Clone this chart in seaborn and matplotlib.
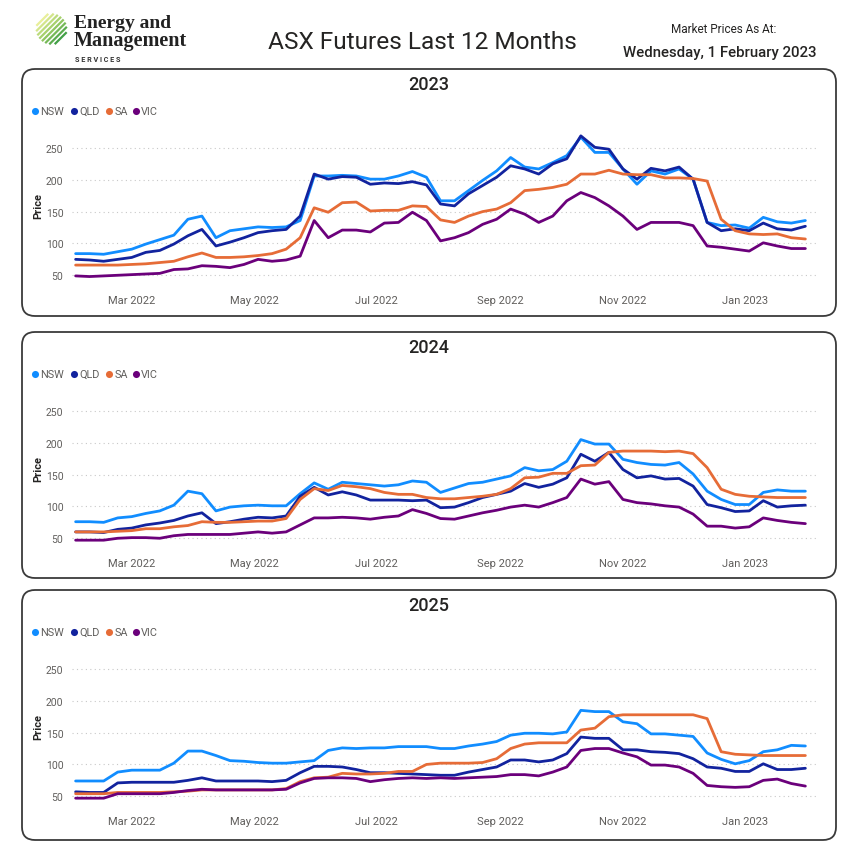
import numpy as np
import pandas as pd
import seaborn as sns
import matplotlib.pyplot as plt
import matplotlib.dates as mdates
from matplotlib.patches import FancyBboxPatch

sns.set_style("white")
plt.rcParams['font.family'] = ['Roboto', 'DejaVu Sans']

# weekly samples of the last 12 months
dates = pd.date_range('2022-02-01', '2023-01-31', freq='7D')
regions = ['NSW', 'QLD', 'SA', 'VIC']
colors = ['#118DFF', '#12239E', '#E66C37', '#6B007B']
years = ['2023', '2024', '2025']

nsw_2023 = [84, 84, 83, 87, 91, 99, 106, 113, 138, 143, 109, 120, 123, 126, 125, 126, 136, 206, 206, 207,
            206, 201, 201, 206, 213, 204, 167, 167, 183, 199, 214, 235, 220, 217, 227, 238, 267, 243, 243, 217,
            193, 214, 209, 217, 201, 133, 128, 129, 124, 141, 134, 132, 136]
qld_2023 = [75, 74, 72, 75, 78, 86, 89, 99, 112, 122, 96, 102, 109, 117, 120, 122, 143, 209, 201, 205,
            204, 193, 195, 194, 197, 192, 162, 159, 178, 191, 204, 222, 217, 209, 225, 233, 269, 251, 248, 217,
            201, 218, 214, 220, 201, 133, 120, 123, 120, 132, 123, 121, 127]
sa_2023 = [66, 66, 66, 66, 67, 68, 70, 72, 79, 85, 78, 78, 79, 81, 84, 91, 109, 156, 149, 164,
           165, 151, 152, 152, 159, 158, 137, 133, 143, 150, 154, 164, 183, 185, 188, 193, 209, 209, 215, 209,
           208, 208, 203, 203, 202, 198, 138, 120, 115, 114, 115, 109, 107]
vic_2023 = [49, 48, 49, 50, 51, 52, 53, 59, 60, 65, 64, 62, 67, 75, 72, 74, 80, 136, 109, 121,
            121, 118, 132, 133, 149, 136, 104, 109, 117, 130, 138, 154, 146, 133, 143, 167, 180, 172, 159, 143,
            122, 133, 133, 133, 128, 96, 94, 91, 88, 101, 96, 92, 92]

nsw_2024 = [76, 76, 75, 82, 84, 89, 93, 102, 124, 120, 93, 99, 101, 102, 101, 101, 120, 137, 127, 138,
            136, 134, 132, 134, 140, 138, 122, 129, 136, 138, 143, 148, 161, 156, 158, 171, 205, 198, 198, 174,
            169, 166, 165, 169, 151, 124, 111, 103, 103, 122, 126, 124, 124]
qld_2024 = [60, 60, 59, 64, 66, 71, 74, 78, 85, 90, 73, 76, 80, 83, 82, 85, 116, 130, 118, 123,
            118, 110, 110, 110, 109, 110, 98, 99, 106, 114, 119, 124, 136, 130, 135, 145, 182, 171, 185, 158,
            145, 148, 143, 144, 132, 103, 98, 92, 93, 109, 99, 101, 102]
sa_2024 = [60, 60, 60, 61, 62, 65, 65, 68, 70, 76, 75, 75, 76, 77, 77, 81, 111, 128, 125, 133,
           131, 128, 122, 119, 119, 114, 112, 112, 114, 116, 119, 128, 145, 146, 152, 152, 164, 165, 185, 187,
           187, 187, 186, 187, 183, 161, 127, 119, 116, 115, 114, 114, 114]
vic_2024 = [47, 47, 47, 50, 51, 51, 50, 54, 56, 56, 56, 56, 58, 60, 58, 60, 71, 82, 82, 83,
            82, 80, 83, 85, 95, 89, 81, 80, 85, 90, 94, 99, 102, 99, 106, 114, 143, 135, 139, 111,
            106, 104, 101, 99, 88, 69, 69, 66, 68, 82, 78, 75, 73]

nsw_2025 = [74, 74, 74, 88, 91, 91, 91, 102, 121, 121, 114, 106, 105, 103, 102, 102, 104, 106, 122, 126,
            125, 126, 126, 128, 128, 128, 125, 125, 129, 132, 136, 146, 149, 149, 148, 151, 185, 183, 183, 167,
            164, 148, 148, 146, 144, 118, 108, 101, 106, 120, 123, 130, 129]
qld_2025 = [57, 56, 56, 71, 72, 72, 72, 72, 75, 79, 74, 74, 74, 74, 73, 75, 87, 97, 97, 96,
            92, 87, 87, 86, 85, 84, 83, 83, 88, 92, 96, 107, 107, 104, 107, 117, 143, 141, 141, 123,
            123, 120, 119, 117, 109, 96, 94, 89, 89, 101, 92, 92, 94]
sa_2025 = [54, 54, 54, 56, 56, 56, 56, 57, 58, 60, 60, 60, 60, 60, 60, 62, 73, 79, 80, 86,
           85, 85, 86, 89, 89, 100, 102, 102, 102, 103, 109, 125, 132, 134, 134, 134, 154, 157, 175, 178,
           178, 178, 178, 178, 178, 172, 120, 116, 115, 114, 114, 114, 114]
vic_2025 = [47, 47, 47, 54, 54, 54, 54, 56, 59, 61, 60, 60, 60, 60, 60, 61, 71, 78, 79, 79,
            78, 73, 76, 78, 79, 78, 79, 78, 79, 80, 81, 84, 84, 82, 88, 96, 122, 125, 125, 118,
            112, 99, 99, 96, 86, 67, 65, 64, 65, 75, 77, 70, 66]

panel_data = [[nsw_2023, qld_2023, sa_2023, vic_2023],
              [nsw_2024, qld_2024, sa_2024, vic_2024],
              [nsw_2025, qld_2025, sa_2025, vic_2025]]
yticks = [50, 100, 150, 200, 250]

W, H = 858, 853
fig = plt.figure(figsize=(W / 100, H / 100), dpi=100)
fig.patch.set_facecolor('white')

# pixel-space canvas for the report chrome
bg = fig.add_axes([0, 0, 1, 1], zorder=0)
bg.set_xlim(0, W)
bg.set_ylim(H, 0)
bg.axis('off')

# logo
cx, cy, r = 51.5, 30, 15.5
stripe_cols = sns.blend_palette(['#e8ef9a', '#9ccc65', '#43a047'], 8)
for k, d in enumerate(np.linspace(-13, 13, 8)):
    half = np.sqrt(r ** 2 - d ** 2)
    px, py = cx + d / np.sqrt(2), cy + d / np.sqrt(2)
    ux, uy = 1 / np.sqrt(2), -1 / np.sqrt(2)
    bg.plot([px - half * ux, px + half * ux], [py - half * uy, py + half * uy],
            color=stripe_cols[k], lw=1.6, solid_capstyle='butt')
bg.text(74, 28, 'Energy and', fontsize=14, family=['Liberation Serif'], weight='bold',
        color='#222222', va='baseline')
bg.text(74, 45.5, 'Management', fontsize=14.5, family=['Liberation Serif'], weight='bold',
        color='#222222', va='baseline')
bg.text(75, 59.5, ' '.join('SERVICES'), fontsize=5.2, weight='bold', color='#333333', va='center')

bg.text(422, 42, 'ASX Futures Last 12 Months', fontsize=17.6, ha='center', va='center', color='#252423')
bg.text(724, 29, 'Market Prices As At:', fontsize=8.5, ha='center', va='center', color='#252423')
bg.text(720, 52.5, 'Wednesday, 1 February 2023', fontsize=10.8, weight='medium',
        ha='center', va='center', color='#252423')

panel_tops = [70, 333, 591]
panel_heights = [247, 246, 250]
legend_x = [35, 74, 109.3, 136]

x_left, x_right = 71.6, 817.4
for p, (top, ph) in enumerate(zip(panel_tops, panel_heights)):
    box = FancyBboxPatch((22, top), 814, ph, boxstyle="round,pad=0,rounding_size=13",
                         fc='white', ec='#3a3a3a', lw=1.3)
    bg.add_patch(box)
    bg.text(429, top + 15, years[p], fontsize=13, weight='medium', ha='center', va='center',
            color='#252423')
    for j, reg in enumerate(regions):
        bg.scatter(legend_x[j], top + 41.5, s=26, color=colors[j], zorder=3, linewidths=0)
        bg.text(legend_x[j] + 5, top + 41.5, reg, fontsize=7.8, va='center', color='#605E5C')

    ax_top, ax_bot = top + 53.5, top + 219
    ax = fig.add_axes([x_left / W, 1 - ax_bot / H, (x_right - x_left) / W, (ax_bot - ax_top) / H],
                      zorder=2)
    ax.set_facecolor('none')

    df = pd.DataFrame({
        'date': np.tile(dates, len(regions)),
        'region': np.repeat(regions, len(dates)),
        'price': np.concatenate(panel_data[p]),
    })
    sns.lineplot(data=df, x='date', y='price', hue='region', hue_order=regions,
                 palette=dict(zip(regions, colors)), linewidth=2.0, legend=False, ax=ax)

    ax.set_xlim(pd.Timestamp('2022-01-30'), pd.Timestamp('2023-02-06'))
    ax.set_ylim(30, 290)
    ax.set_yticks(yticks)
    ax.xaxis.set_major_locator(mdates.MonthLocator(bymonth=[1, 3, 5, 7, 9, 11]))
    ax.xaxis.set_major_formatter(mdates.DateFormatter('%b %Y'))
    ax.tick_params(axis='both', length=0, labelcolor='#605E5C')
    ax.tick_params(axis='y', labelsize=7.5, pad=6)
    ax.tick_params(axis='x', labelsize=8, pad=5)
    ax.yaxis.grid(True, linestyle=(0, (1, 3)), color='#c8c8c8', lw=0.8)
    ax.xaxis.grid(False)
    for s in ax.spines.values():
        s.set_visible(False)
    ax.set_xlabel('')
    ax.set_ylabel('Price', fontsize=8, weight='semibold', color='#252423')
    ax.yaxis.set_label_coords(-(x_left - 43) / (x_right - x_left), 0.5)

fig.savefig('out.png', dpi=100, facecolor='white')
